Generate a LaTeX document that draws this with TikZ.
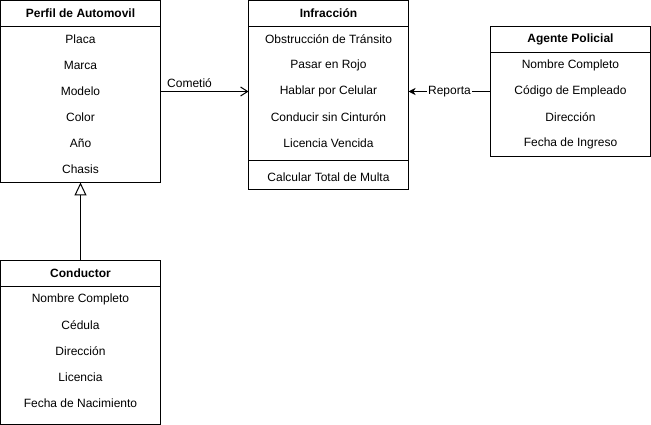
\documentclass[tikz,border=0pt]{standalone}
\usepackage{fontspec}
\setmainfont{Liberation Sans}
\usetikzlibrary{arrows.meta}
\begin{document}
\begin{tikzpicture}[x=1pt,y=-1pt,
  box/.style={draw, line width=1pt, anchor=north west, inner sep=0pt, outer sep=0pt, minimum width=160pt},
  sep/.style={line width=1pt},
  title/.style={font=\fontsize{12}{14}\selectfont\bfseries, inner sep=0pt},
  row/.style={font=\fontsize{12}{14}\selectfont, inner sep=0pt},
  lbl/.style={font=\fontsize{12}{14}\selectfont, inner sep=1pt},
  assoc/.style={line width=1pt, -{Straight Barb[length=7pt,width=9pt,line width=1pt]}},
  report/.style={line width=1pt, -{Stealth[length=7pt,width=7pt,inset=2pt]}},
  gen/.style={line width=1pt, -{Triangle[open,length=13pt,width=12pt,line width=1pt,fill=white]}}
]
\useasboundingbox (0,0) rectangle (651,425);

% Perfil de Automovil
\node[box, minimum height=182pt] (perfil) at (0.5,0.5) {};
\draw[sep] ([yshift=-26pt]perfil.north west) -- ([yshift=-26pt]perfil.north east);
\node[title] (perfilT) at (80.5,13.5) {Perfil de Automovil};
\node[row] (placa) at (80.5,39.5) {Placa};
\node[row] (marca) at (80.5,65.5) {Marca};
\node[row] (modelo) at (80.5,91.5) {Modelo};
\node[row] (color) at (80.5,117.5) {Color};
\node[row] (anio) at (80.5,143.5) {Año};
\node[row] (chasis) at (80.5,169.5) {Chasis};

% Infraccion
\node[box, minimum height=189pt] (infr) at (248.5,0.5) {};
\draw[sep] ([yshift=-26pt]infr.north west) -- ([yshift=-26pt]infr.north east);
\draw[sep] ([yshift=-160pt]infr.north west) -- ([yshift=-160pt]infr.north east);
\node[title] (infrT) at (328.5,13.5) {Infracción};
\node[row] (obs) at (328.5,39.5) {Obstrucción de Tránsito};
\node[row] (rojo) at (328.5,65.5) {Pasar en Rojo};
\node[row] (cel) at (328.5,91.5) {Hablar por Celular};
\node[row] (cint) at (328.5,117.5) {Conducir sin Cinturón};
\node[row] (lic) at (328.5,143.5) {Licencia Vencida};
\node[row] (calc) at (328.5,177.5) {Calcular Total de Multa};

% Agente Policial
\node[box, minimum height=130pt] (agente) at (490.5,26.5) {};
\draw[sep] ([yshift=-26pt]agente.north west) -- ([yshift=-26pt]agente.north east);
\node[title] (agenteT) at (570.5,39.5) {Agente Policial};
\node[row] (anom) at (570.5,65.5) {Nombre Completo};
\node[row] (acod) at (570.5,91.5) {Código de Empleado};
\node[row] (adir) at (570.5,117.5) {Dirección};
\node[row] (afec) at (570.5,143.5) {Fecha de Ingreso};

% Conductor
\node[box, minimum height=164pt] (cond) at (0.5,260.5) {};
\draw[sep] ([yshift=-26pt]cond.north west) -- ([yshift=-26pt]cond.north east);
\node[title] (condT) at (80.5,273.5) {Conductor};
\node[row] (cnom) at (80.5,299.5) {Nombre Completo};
\node[row] (cced) at (80.5,325.5) {Cédula};
\node[row] (cdir) at (80.5,351.5) {Dirección};
\node[row] (clic) at (80.5,377.5) {Licencia};
\node[row] (cfec) at (80.5,403.5) {Fecha de Nacimiento};

% Connectors
\draw[assoc] (perfil.east |- modelo) -- (infr.west |- modelo);
\node[lbl, anchor=south west] (cometio) at (166,89) {Cometió};
\draw[report] (agente.west |- acod) -- (infr.east |- acod)
  node[pos=0.5, lbl, fill=white] (reporta) {Reporta};
\draw[gen] (cond.north) -- (perfil.south);
\end{tikzpicture}
\end{document}
